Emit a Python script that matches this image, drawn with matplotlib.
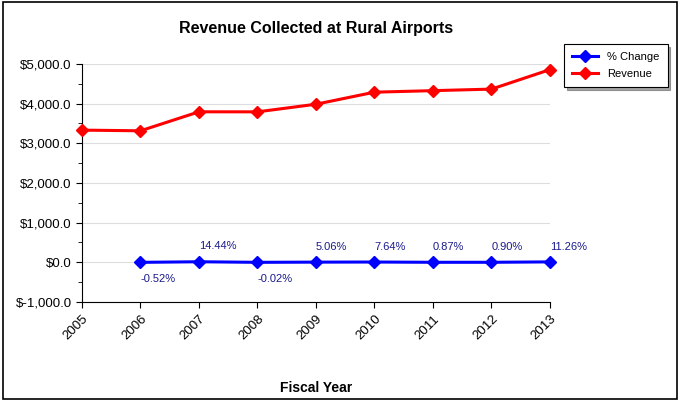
import matplotlib
matplotlib.use("Agg")
import matplotlib.pyplot as plt
from matplotlib.ticker import FuncFormatter, MultipleLocator
from matplotlib.patches import Rectangle

plt.rcParams['font.family'] = ['Liberation Sans', 'DejaVu Sans']

# --- Данные ---
years = [2005, 2006, 2007, 2008, 2009, 2010, 2011, 2012, 2013]
revenue = [3333, 3316, 3795, 3794, 3986, 4290, 4328, 4367, 4859]
pct_years = [2006, 2007, 2008, 2009, 2010, 2011, 2012, 2013]
pct_change = [-0.52, 14.44, -0.02, 5.06, 7.64, 0.87, 0.90, 11.26]

fig = plt.figure(figsize=(6.81, 4.01), dpi=100)
ax = fig.add_axes([0.1204, 0.2469, 0.6872, 0.5935])

# рамка вокруг всего рисунка
fig.patches.append(Rectangle((0.004, 0.006), 0.99, 0.988, transform=fig.transFigure,
                             fill=False, edgecolor='black', linewidth=1.2))

ax.plot(pct_years, pct_change, color='blue', marker='D', markersize=6.5, linewidth=2.2,
        label='% Change', clip_on=False, zorder=4)
ax.plot(years, revenue, color='red', marker='D', markersize=6.5, linewidth=2.2,
        label='Revenue', clip_on=False, zorder=4)

for x, v in zip(pct_years, pct_change):
    off = 11 if v >= 0 else -12
    ax.annotate(f"{v:.2f}%", (x, v), xytext=(0, off), textcoords='offset points',
                ha='left', va='center', fontsize=8, color='#1a1a8c')

ax.set_xlim(2005, 2013)
ax.set_ylim(-1000, 5000)
ax.set_xticks(years)
ax.set_xticklabels([str(y) for y in years], rotation=45, ha='right', va='top',
                   rotation_mode='anchor', fontsize=9.5)
ax.yaxis.set_major_locator(MultipleLocator(1000))
ax.yaxis.set_minor_locator(MultipleLocator(500))
ax.yaxis.set_major_formatter(FuncFormatter(lambda v, p: f"${v:,.1f}" if v >= 0 else f"$-{abs(v):,.1f}"))
ax.tick_params(axis='y', labelsize=9.5, length=4, direction='out')
ax.tick_params(axis='y', which='minor', length=3)
ax.tick_params(axis='x', length=4, pad=4)
ax.grid(axis='y', color='#dddddd', linewidth=0.8)
ax.set_axisbelow(True)
for s in ['top', 'right']:
    ax.spines[s].set_visible(False)

ax.set_title('Revenue Collected at Rural Airports', fontsize=11.5, fontweight='bold', pad=22)
ax.set_xlabel('Fiscal Year', fontsize=10, fontweight='bold', labelpad=28)

leg = ax.legend(loc='upper left', bbox_to_anchor=(1.03, 1.085), fontsize=8,
                frameon=True, fancybox=False, shadow=True, edgecolor='black',
                borderpad=0.7, handlelength=2.4, labelspacing=0.7, borderaxespad=0)
leg.get_frame().set_linewidth(0.8)

fig.savefig('out.png', dpi=100)
